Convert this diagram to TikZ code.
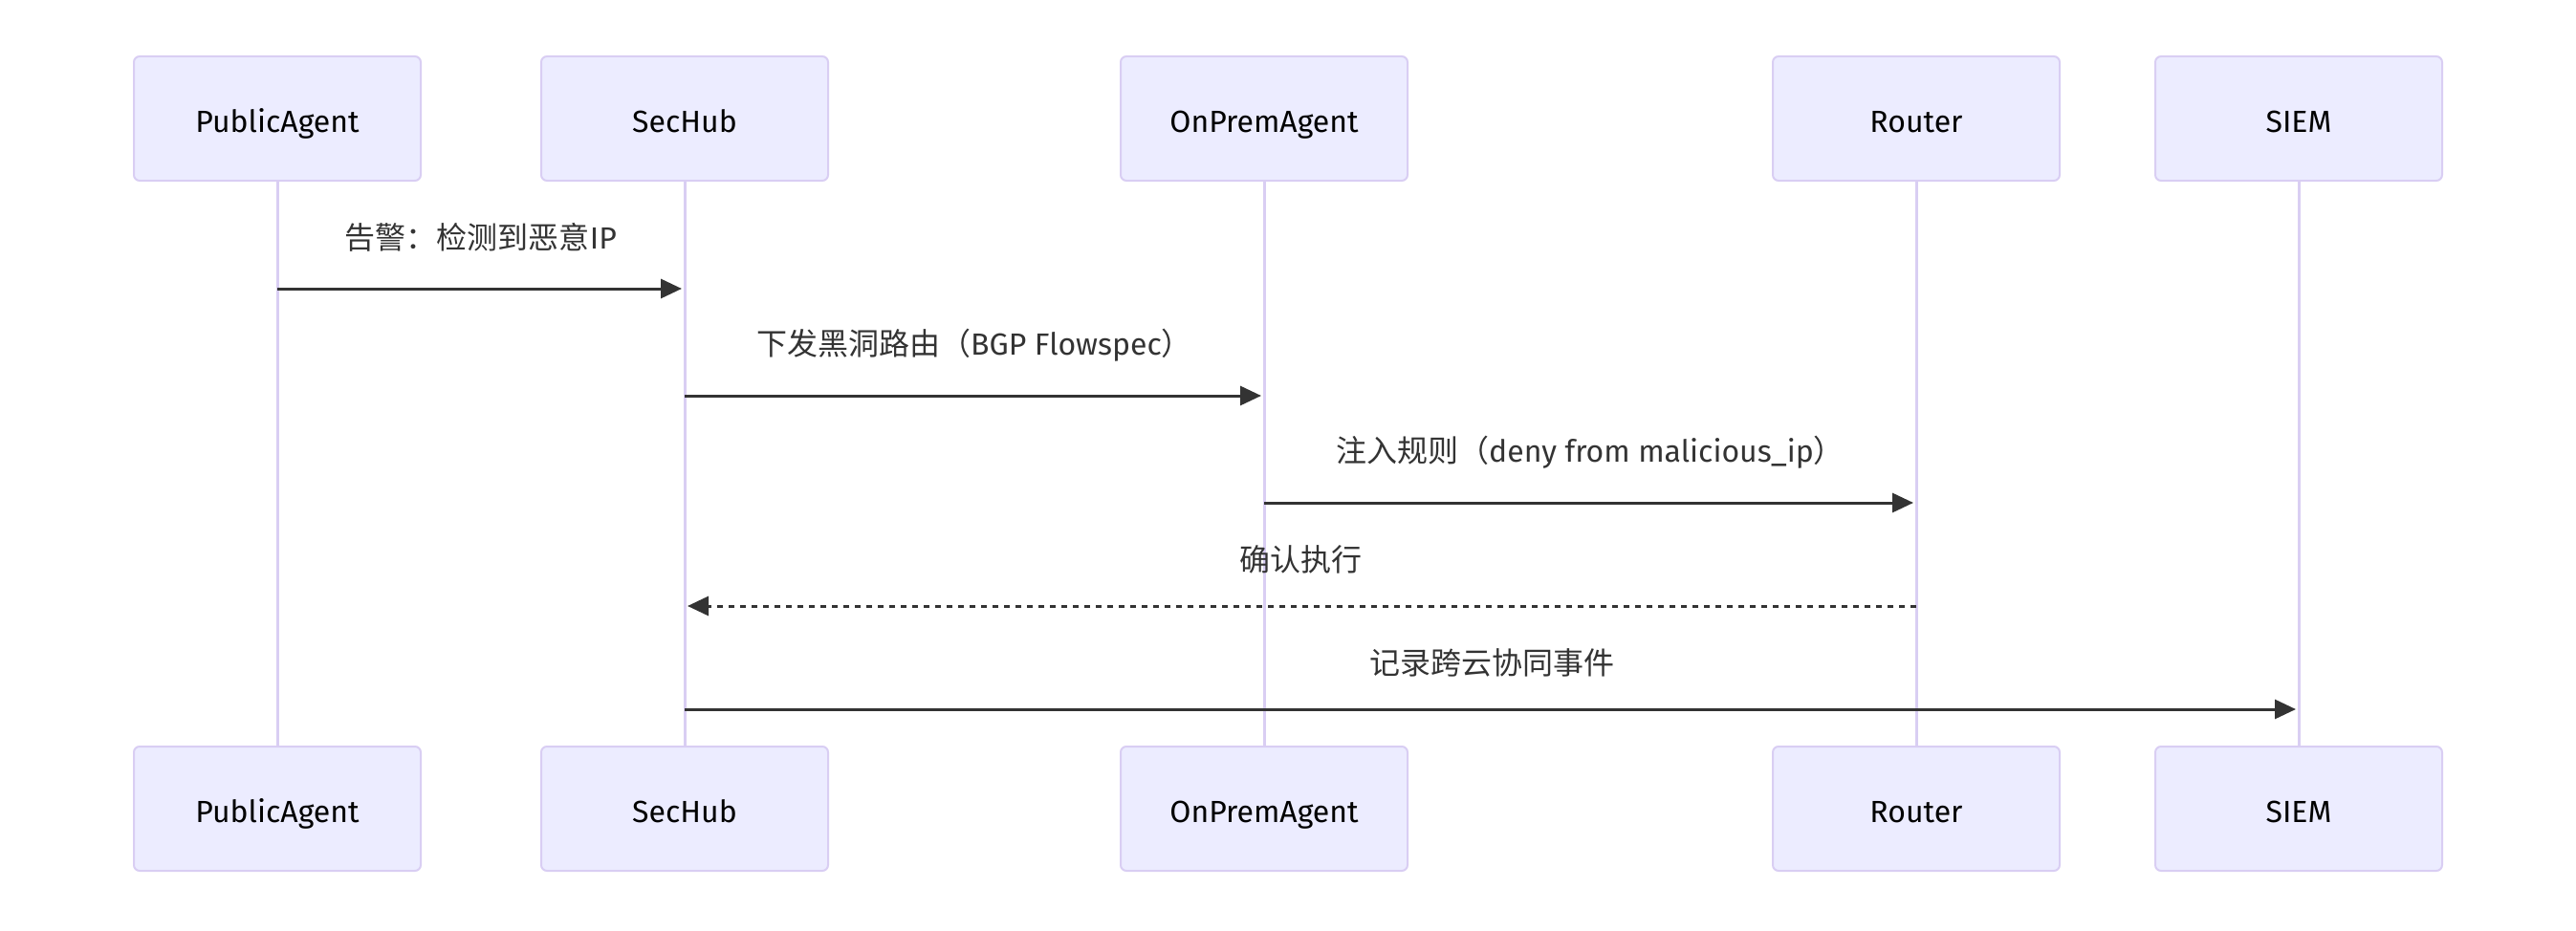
\documentclass[tikz,border=0pt]{standalone}
\usepackage{fontspec}
\setmainfont{Fira Sans}
\newfontfamily\cjkfont{Noto Sans CJK SC}
\usetikzlibrary{arrows.meta, positioning}

\definecolor{actorfill}{HTML}{ECECFF}
\definecolor{actorline}{HTML}{D9CEF3}
\definecolor{msgline}{HTML}{333333}

\begin{document}
\begin{tikzpicture}[x=1pt, y=-1pt, font=\fontsize{16}{19}\selectfont]
        % Setup the styles
        \tikzset{actor style/.style={draw=actorline,
                                     line width=1pt,
                                     fill=actorfill,
                                     rounded corners=3pt,
                                     minimum width=150pt,
                                     minimum height=65pt,
                                     text height=14.2pt,
                                     text depth=0pt,
                                     text=black},
                 life style/.style={draw=actorline, line width=1.5pt},
                 msg style/.style={draw=msgline,
                                   line width=1.5pt,
                                   -{Triangle[length=11pt, width=10pt]},
                                   shorten >=1.5pt},
                 reply style/.style={msg style, dash pattern=on 3pt off 3pt},
                 text style/.style={text=msgline, inner sep=0pt, yshift=#1},
                 text style/.default=27pt}
        \useasboundingbox (0,0) rectangle (1347,487);

        % Draw the actors
        \node[actor style] at (145, 62)  (pub)    {PublicAgent};
        \node[actor style] at (358, 62)  (hub)    {SecHub};
        \node[actor style] at (661, 62)  (onprem) {OnPremAgent};
        \node[actor style] at (1002, 62) (router) {Router};
        \node[actor style] at (1202, 62) (siem)   {SIEM};

        \node[actor style] at (145, 423)  (pubB)    {PublicAgent};
        \node[actor style] at (358, 423)  (hubB)    {SecHub};
        \node[actor style] at (661, 423)  (onpremB) {OnPremAgent};
        \node[actor style] at (1002, 423) (routerB) {Router};
        \node[actor style] at (1202, 423) (siemB)   {SIEM};

        % Draw the lifelines
        \foreach \a in {pub, hub, onprem, router, siem}
            \draw[life style] (\a) -- (\a B);

        % Rows of the messages
        \foreach \n/\y in {1/151, 2/207, 3/263, 4/317, 5/371}
            \coordinate (row\n) at (0, \y);

        % Connect the lifelines with messages
        \draw[msg style] (pub |- row1) -- node[text style]
            {{\cjkfont 告警：检测到恶意}IP} (hub |- row1);
        \draw[msg style] (hub |- row2) -- node[text style=26.5pt]
            {{\cjkfont 下发黑洞路由（}BGP Flowspec{\cjkfont ）}} (onprem |- row2);
        \draw[msg style] (onprem |- row3) -- node[text style=26.5pt]
            {{\cjkfont 注入规则（}deny from malicious\_ip{\cjkfont ）}} (router |- row3);
        \draw[reply style] (router |- row4) -- node[text style=24.5pt]
            {\cjkfont 确认执行} (hub |- row4);
        \draw[msg style] (hub |- row5) -- node[text style=24.5pt]
            {\cjkfont 记录跨云协同事件} (siem |- row5);
\end{tikzpicture}
\end{document}
